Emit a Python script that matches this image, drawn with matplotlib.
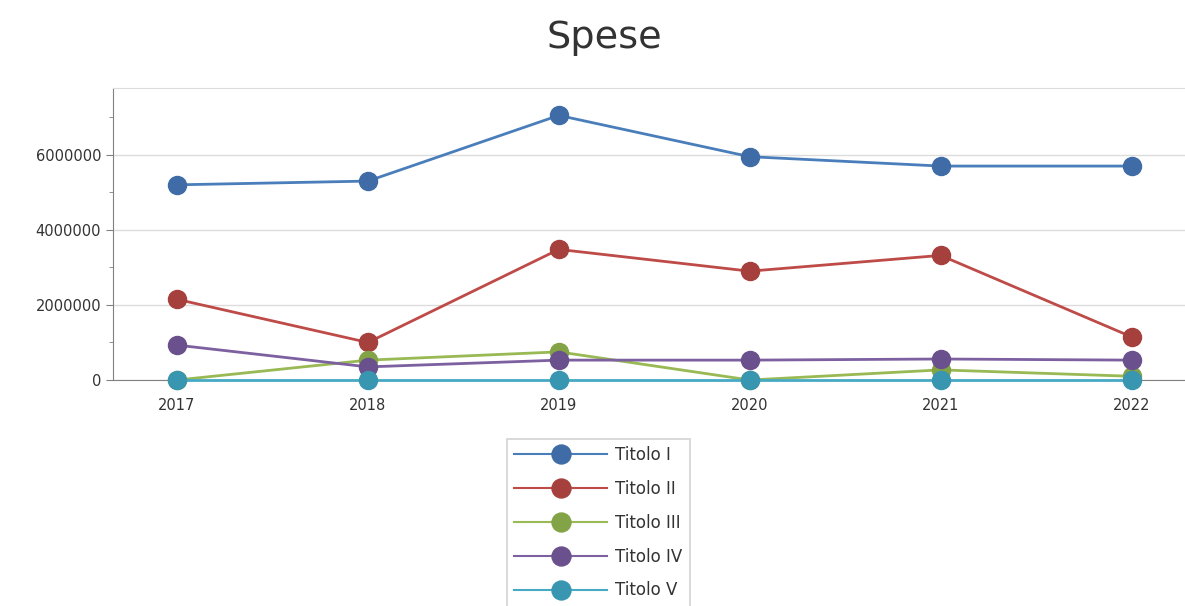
import numpy as np
import matplotlib
matplotlib.use('Agg')
import matplotlib.pyplot as plt
from matplotlib.ticker import MultipleLocator, FuncFormatter

years = [2017, 2018, 2019, 2020, 2021, 2022]
titolo_1 = [5200000, 5300000, 7050000, 5950000, 5700000, 5700000]
titolo_2 = [2150000, 1000000, 3480000, 2900000, 3320000, 1150000]
titolo_3 = [0, 530000, 750000, 0, 270000, 100000]
titolo_4 = [930000, 350000, 530000, 530000, 560000, 530000]
titolo_5 = [0, 0, 0, 0, 0, 0]

labels = ['Titolo I', 'Titolo II', 'Titolo III', 'Titolo IV', 'Titolo V']
line_colors = ['#4a7ebb', '#be4b48', '#98b954', '#7d60a0', '#46aac5']
marker_colors = ['#3f6ca6', '#a5403d', '#83a347', '#6a508c', '#3896b0']

fig = plt.figure(figsize=(11.85, 6.06), dpi=100)
ax = fig.add_axes([0.0954, 0.3729, 0.9046, 0.4819])

series = [titolo_1, titolo_2, titolo_3, titolo_4, titolo_5]
handles = []
for i, vals in enumerate(series):
    h, = ax.plot(years, vals, color=line_colors[i], linewidth=2,
                 marker='o', markersize=13, markerfacecolor=marker_colors[i],
                 markeredgecolor=marker_colors[i], label=labels[i], zorder=3 + i,
                 clip_on=False)
    handles.append(h)

ax.set_xlim(2016.665, 2022.28)
ax.set_ylim(0, 7780000)
ax.set_xticks(years)
ax.yaxis.set_major_locator(MultipleLocator(2000000))
ax.yaxis.set_minor_locator(MultipleLocator(1000000))
ax.yaxis.set_major_formatter(FuncFormatter(lambda v, p: f'{int(v)}'))
ax.grid(axis='y', color='#dcdcdc', linewidth=1)
ax.set_axisbelow(True)

ax.spines['top'].set_color('#dcdcdc')
ax.spines['right'].set_visible(False)
for s in ['left', 'bottom']:
    ax.spines[s].set_color('#808080')
ax.tick_params(axis='both', colors='#808080', labelcolor='#333333', labelsize=10.5, length=5)
ax.tick_params(axis='y', which='minor', colors='#808080', length=3)
ax.tick_params(axis='x', pad=8)

fig.text(0.51, 0.938, 'Spese', ha='center', va='center', fontsize=27.5, color='#333333')

leg = fig.legend(handles=handles, loc='upper left', bbox_to_anchor=(0.4204, 0.29),
                 frameon=True, fancybox=False, edgecolor='#c8c8c8', fontsize=12,
                 handlelength=5.6, labelspacing=0.95, borderpad=0.45,
                 handletextpad=0.45, labelcolor='#333333', markerscale=1.05)
leg.get_frame().set_linewidth(1.2)
for lh in leg.legend_handles:
    lh.set_linewidth(1.5)

fig.savefig('out.png', dpi=100)
